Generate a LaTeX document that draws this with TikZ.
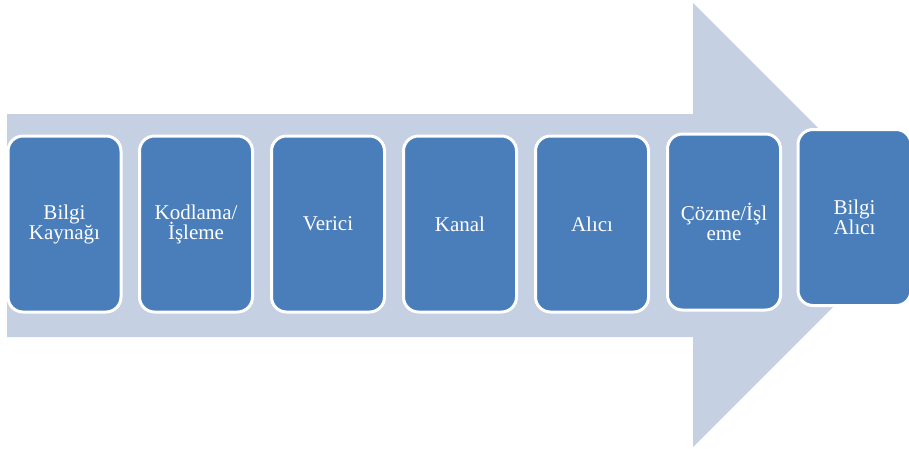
\documentclass[tikz,border=0pt]{standalone}
\usepackage{fontspec}
\setmainfont{Liberation Serif}
\definecolor{arrowfill}{HTML}{C5D0E3}
\definecolor{stepblue}{HTML}{4A7EBB}
\begin{document}
\begin{tikzpicture}[x=1pt,y=-1pt,
  stagebox/.style={draw=white, line width=3pt, fill=stepblue, rounded corners=15pt,
    minimum width=113pt, minimum height=176pt, inner sep=0pt,
    text=white, align=center, font=\fontsize{21}{20}\selectfont}]
  \useasboundingbox (0,0) rectangle (909,448);
  \clip (0,0) rectangle (909,448);
  % wide background arrow
  \fill[arrowfill] (7,114) -- (693,114) -- (693,3) -- (915,225) -- (693,447)
    -- (693,337) -- (7,337) -- cycle;
  % process stages
  \node[stagebox] (s1) at (64.5,224) {Bilgi\\Kaynağı};
  \node[stagebox] (s2) at (196,224) {Kodlama/\\İşleme};
  \node[stagebox] (s3) at (328,224) {Verici};
  \node[stagebox] (s4) at (460,224) {Kanal};
  \node[stagebox] (s5) at (592,224) {Alıcı};
  \node[stagebox] (s6) at (724,222) {Çözme/İşl\\eme};
  \node[stagebox] (s7) at (854.5,217.5) {Bilgi\\Alıcı};
\end{tikzpicture}
\end{document}
